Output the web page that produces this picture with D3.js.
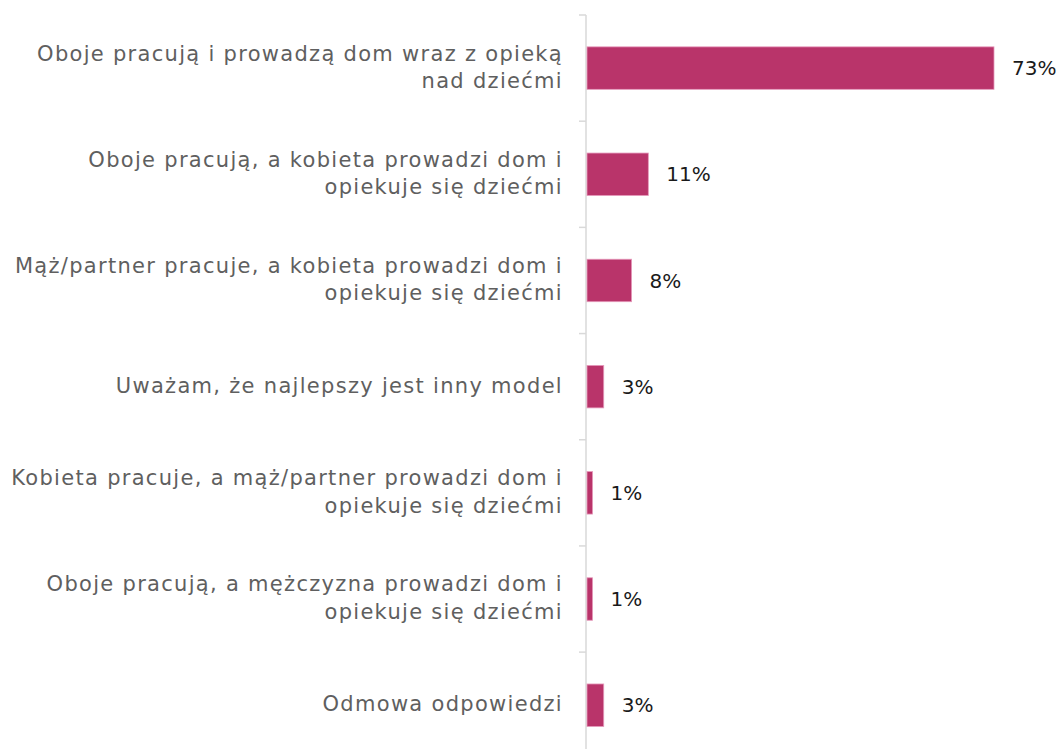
<!DOCTYPE html>
<html lang="pl">
<head>
    <meta charset="UTF-8">
    <script src="https://cdn.jsdelivr.net/npm/d3@7"></script>
    <title>Model rodziny</title>
    <style>
        html,
        body {
            margin: 0px;
            padding: 0px;
            background-color: #ffffff;
            font-family: "DejaVu Sans", sans-serif;
        }
        svg {
            display: block;
        }
    </style>
</head>
<body>
    <div id='chart'></div>

    <script>

        // categories, each already split into the lines shown on the chart
        let categories = [
            ['Oboje pracują i prowadzą dom wraz z opieką', 'nad dziećmi'],
            ['Oboje pracują, a kobieta prowadzi dom i', 'opiekuje się dziećmi'],
            ['Mąż/partner pracuje, a kobieta prowadzi dom i', 'opiekuje się dziećmi'],
            ['Uważam, że najlepszy jest inny model'],
            ['Kobieta pracuje, a mąż/partner prowadzi dom i', 'opiekuje się dziećmi'],
            ['Oboje pracują, a mężczyzna prowadzi dom i', 'opiekuje się dziećmi'],
            ['Odmowa odpowiedzi']
        ];
        let values = [73, 11, 8, 3, 1, 1, 3];
        let value_labels = ['73%', '11%', '8%', '3%', '1%', '1%', '3%'];

        let width = 1059;
        let height = 749;

        let margin = {
            top: 15,
            left: 587,
            axis_bottom: 749
        };

        let svg = d3.select('#chart').append('svg').attr("width", width).attr('height', height);

        let y = d3.scaleBand()
            .domain(d3.range(categories.length))
            .range([margin.top, 758.3])
            .paddingInner(0.6)
            .paddingOuter(0.3);

        let x = d3.scaleLinear()
            .domain([0, 73])
            .range([margin.left, 994]);

        // axis line and tick marks between the categories
        svg.append('line')
            .attr('x1', margin.left - 1).attr('x2', margin.left - 1)
            .attr('y1', margin.top).attr('y2', margin.axis_bottom)
            .attr('stroke', '#d9d9d9')
            .attr('stroke-width', 1.5);

        let step = y.step();
        svg.selectAll('.tick')
            .data(d3.range(categories.length))
            .join('line')
            .attr('class', 'tick')
            .attr('x1', margin.left - 8).attr('x2', margin.left - 1)
            .attr('y1', (i) => margin.top + i * step)
            .attr('y2', (i) => margin.top + i * step)
            .attr('stroke', '#d9d9d9')
            .attr('stroke-width', 1.5);

        svg.selectAll('.bar')
            .data(values)
            .join('rect')
            .attr('class', 'bar')
            .attr('x', x(0))
            .attr('y', (d, i) => y(i))
            .attr('width', (d) => x(d) - x(0))
            .attr('height', y.bandwidth())
            .attr('fill', '#b9346a')
            .attr('stroke', '#e59abb')
            .attr('stroke-width', 0.8);

        svg.selectAll('.value')
            .data(values)
            .join('text')
            .attr('class', 'value')
            .attr('x', (d) => x(d) + 18)
            .attr('y', (d, i) => y(i) + y.bandwidth() / 2)
            .attr('dy', '0.36em')
            .attr('fill', '#1a1a1a')
            .style('font-size', '20px')
            .text((d, i) => value_labels[i]);

        let line_height = 27.3;
        svg.selectAll('.cat')
            .data(categories)
            .join('text')
            .attr('class', 'cat')
            .attr('text-anchor', 'end')
            .attr('fill', '#5f5f5f')
            .style('font-size', '21px')
            .style('letter-spacing', '1.3px')
            .each(function(lines, i) {
                let cy = y(i) + y.bandwidth() / 2;
                let first = cy - (lines.length - 1) * line_height / 2;
                d3.select(this).selectAll('tspan')
                    .data(lines)
                    .join('tspan')
                    .attr('x', 563)
                    .attr('y', (l, j) => first + j * line_height)
                    .attr('dy', '0.29em')
                    .text((l) => l);
            });

    </script>
</body>
</html>
